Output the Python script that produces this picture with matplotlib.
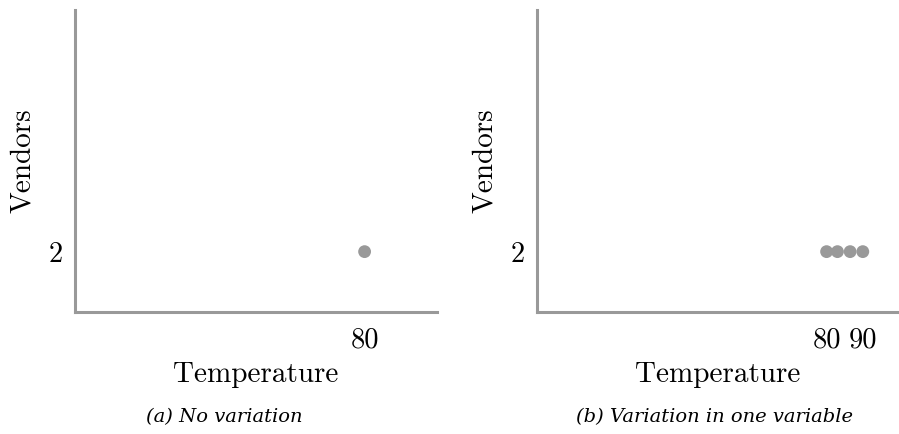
import matplotlib
matplotlib.use('Agg')
import matplotlib.pyplot as plt

# data for the two panels
temp_a = [80]
vendors_a = [2]
temp_b = [80, 83, 86.5, 90]
vendors_b = [2, 2, 2, 2]
xticks_a = [80]
xticks_b = [80, 90]
yticks = [2]
captions = ['(a) No variation', '(b) Variation in one variable']

grey = '#999999'
plt.rcParams['font.family'] = 'cmr10'
plt.rcParams['axes.formatter.use_mathtext'] = True

fig = plt.figure(figsize=(8.99, 4.34), dpi=100)
ax1 = fig.add_axes([0.0834, 0.281, 0.4027, 0.696])
ax2 = fig.add_axes([0.5973, 0.281, 0.4027, 0.696])

panels = [(ax1, temp_a, vendors_a, xticks_a), (ax2, temp_b, vendors_b, xticks_b)]
for ax, x, y, xt in panels:
    ax.scatter(x, y, s=85, color=grey, edgecolors='none', zorder=3, clip_on=False)
    ax.set_xlim(0, 100)
    ax.set_ylim(0, 10)
    ax.set_xticks(xt)
    ax.set_xticklabels([str(v) for v in xt])
    ax.set_yticks(yticks)
    ax.set_yticklabels([str(v) for v in yticks])
    for side in ['top', 'right']:
        ax.spines[side].set_visible(False)
    for side in ['left', 'bottom']:
        ax.spines[side].set_color(grey)
        ax.spines[side].set_linewidth(2.2)
    ax.tick_params(length=0, labelsize=20.5)
    ax.tick_params(axis='x', pad=11)
    ax.tick_params(axis='y', pad=9)
    ax.set_xlabel('Temperature', fontsize=21, labelpad=6)
    ax.set_ylabel('Vendors', fontsize=21, labelpad=9)

fig.text(0.250, 0.04, captions[0], ha='center', va='center',
         fontsize=14, style='italic', family='DejaVu Serif')
fig.text(0.795, 0.04, captions[1], ha='center', va='center',
         fontsize=14, style='italic', family='DejaVu Serif')

fig.savefig('out.png', dpi=100)
